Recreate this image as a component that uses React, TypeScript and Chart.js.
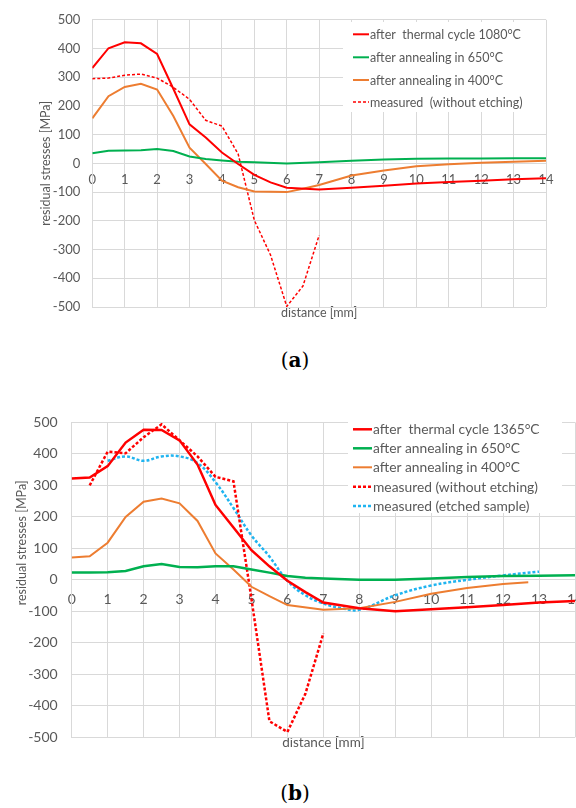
import React, { useEffect, useRef } from "react";
import { Chart, registerables } from "chart.js";

Chart.register(...registerables);

// ---------- Chart (a) data ----------
const aThermalX = [0, 0.5, 1, 1.5, 2, 2.5, 3, 3.5, 4, 4.5, 5, 5.5, 6, 7, 8, 9, 10, 11, 12, 13, 14];
const aThermalY = [332, 401, 422, 418, 381, 260, 136, 90, 38, -2, -40, -66, -85, -91, -85, -78, -70, -65, -60, -55, -52];

const a650X = [0, 0.5, 1, 1.5, 2, 2.5, 3, 3.5, 4, 4.5, 5, 6, 7, 8, 9, 10, 11, 12, 13, 14];
const a650Y = [35, 44, 45, 46, 50, 43, 24, 15, 10, 6, 4, 0, 4, 9, 14, 16, 17, 17, 18, 18];

const a400X = [0, 0.5, 1, 1.5, 2, 2.5, 3, 3.5, 4, 4.5, 5, 6, 6.5, 7, 8, 9, 10, 11, 12, 13, 14];
const a400Y = [157, 234, 266, 277, 257, 165, 55, -2, -60, -83, -98, -100, -88, -75, -42, -25, -10, -3, 2, 6, 9];

const aMeasuredX = [0, 0.5, 1, 1.5, 2, 2.5, 3, 3.5, 4, 4.5, 5, 5.5, 6, 6.5, 7];
const aMeasuredY = [295, 297, 307, 311, 297, 265, 223, 150, 130, 33, -198, -319, -498, -427, -250];

// ---------- Chart (b) data ----------
const bThermalX = [0, 0.5, 1, 1.5, 2, 2.5, 3, 3.5, 4, 4.5, 5, 5.5, 6, 6.5, 7, 8, 9, 10, 11, 12, 13, 14];
const bThermalY = [322, 325, 361, 436, 477, 476, 443, 366, 238, 166, 94, 43, -3, -39, -72, -90, -100, -93, -87, -80, -72, -67];

const b650X = [0, 0.5, 1, 1.5, 2, 2.5, 3, 3.5, 4, 4.5, 5, 5.5, 6, 6.5, 7, 8, 9, 10, 11, 12, 13, 14];
const b650Y = [23, 23, 24, 28, 43, 50, 41, 40, 43, 43, 33, 23, 12, 7, 4, 0, 0, 4, 9, 12, 13, 15];

const b400X = [0, 0.5, 1, 1.5, 2, 2.5, 3, 3.5, 4, 4.5, 5, 5.5, 6, 7, 8, 9, 10, 11, 12, 12.7];
const b400Y = [71, 75, 118, 200, 248, 258, 243, 187, 84, 33, -22, -52, -80, -95, -90, -70, -44, -26, -13, -8];

const bNoEtchX = [0.5, 1, 1.5, 2, 2.5, 3, 3.5, 4, 4.5, 5, 5.5, 6, 6.5, 7];
const bNoEtchY = [300, 407, 402, 453, 494, 443, 392, 327, 313, -60, -449, -483, -362, -170];

const bEtchedX = [1, 1.5, 2, 2.5, 3, 3.5, 4, 4.5, 5, 5.5, 6, 6.5, 7, 7.5, 8, 9, 10, 11, 12, 13];
const bEtchedY = [378, 392, 378, 392, 392, 371, 310, 228, 141, 74, -3, -49, -75, -90, -95, -49, -18, 0, 14, 26];

// ---------- labels ----------
const labelsA = [
  "after  thermal cycle 1080°C",
  "after annealing in 650°C",
  "after annealing in 400°C",
  "measured  (without etching)",
];
const labelsB = [
  "after  thermal cycle 1365°C",
  "after annealing in 650°C",
  "after annealing in 400°C",
  "measured (without etching)",
  "measured (etched sample)",
];
const xTitle = "distance [mm]";
const yTitle = "residual stresses [MPa]";
const xMin = 0;
const xMax = 14;
const yMin = -500;
const yMax = 500;

const TEXT = "#595959";
const GRID = "#d9d9d9";
const RED = "#ff0000";
const GREEN = "#00b050";
const ORANGE = "#ed7d31";
const BLUE = "#1fb4f0";

const pts = (xs: number[], ys: number[]) => xs.map((x, i) => ({ x, y: ys[i] }));

const boxLegend = {
  id: "boxLegend",
  afterDatasetsDraw(chart: any, _args: any, opts: any) {
    if (!opts || !opts.rows) return;
    const ctx = chart.ctx;
    ctx.save();
    ctx.fillStyle = "#ffffff";
    ctx.fillRect(opts.box.x, opts.box.y, opts.box.w, opts.box.h);
    ctx.font = `${opts.fontSize}px Lato`;
    ctx.textBaseline = "middle";
    ctx.textAlign = "left";
    chart.data.datasets.forEach((ds: any, i: number) => {
      const y = opts.rows[i];
      ctx.beginPath();
      ctx.setLineDash(ds.borderDash || []);
      ctx.strokeStyle = ds.borderColor;
      ctx.lineWidth = ds.borderWidth;
      ctx.moveTo(opts.lineX0, y);
      ctx.lineTo(opts.lineX1, y);
      ctx.stroke();
      ctx.setLineDash([]);
      ctx.fillStyle = TEXT;
      ctx.fillText(ds.label, opts.textX, y + 0.5);
    });
    ctx.restore();
  },
};

const sideTitle = {
  id: "sideTitle",
  afterDraw(chart: any, _args: any, opts: any) {
    if (!opts || !opts.text) return;
    const ctx = chart.ctx;
    const area = chart.chartArea;
    ctx.save();
    ctx.translate(opts.x, (area.top + area.bottom) / 2 + opts.dy);
    ctx.rotate(-Math.PI / 2);
    ctx.font = `${opts.fontSize}px Lato`;
    ctx.fillStyle = TEXT;
    ctx.textAlign = "center";
    ctx.textBaseline = "middle";
    ctx.fillText(opts.text, 0, 0);
    ctx.restore();
  },
};

function makeConfig(p: {
  datasets: any[];
  fontSize: number;
  titleSize: number;
  padding: any;
  yWidth: number;
  yTickPad: number;
  xTickPad: number;
  showYTitle: boolean;
  legend: any;
  side: any;
}) {
  const font = { family: "Lato", size: p.fontSize };
  const tfont = { family: "Lato", size: p.titleSize };
  return {
    type: "line",
    data: { datasets: p.datasets },
    options: {
      animation: false,
      responsive: false,
      devicePixelRatio: 1,
      layout: { padding: p.padding },
      elements: { point: { radius: 0, hoverRadius: 0 } },
      plugins: {
        legend: { display: false },
        tooltip: { enabled: false },
        boxLegend: p.legend,
        sideTitle: p.side,
      },
      scales: {
        x: {
          type: "linear",
          min: xMin,
          max: xMax,
          position: { y: 0 },
          ticks: { stepSize: 1, padding: p.xTickPad, color: TEXT, font, autoSkip: false, maxRotation: 0 },
          grid: { color: GRID, drawTicks: false },
          border: { color: GRID },
          afterFit(s: any) {
            s.paddingLeft = 0;
            s.paddingRight = 0;
          },
        },
        xt: {
          type: "linear",
          min: xMin,
          max: xMax,
          position: "bottom",
          grid: { display: false },
          border: { display: false },
          ticks: { display: false },
          title: { display: true, text: xTitle, color: TEXT, font: tfont, padding: 0 },
          afterFit(s: any) {
            s.height = 13;
            s.paddingLeft = 0;
            s.paddingRight = 0;
          },
        },
        y: {
          type: "linear",
          min: yMin,
          max: yMax,
          ticks: { stepSize: 100, padding: p.yTickPad, color: TEXT, font },
          grid: { color: GRID, drawTicks: false },
          border: { color: GRID },
          title: { display: p.showYTitle, text: yTitle, color: TEXT, font: tfont, padding: 0 },
          afterFit(s: any) {
            s.width = p.yWidth;
          },
        },
      },
    },
    plugins: [boxLegend, sideTitle],
  };
}

const line = (label: string, xs: number[], ys: number[], color: string, width: number, dash?: number[], tension = 0) => ({
  label,
  data: pts(xs, ys),
  borderColor: color,
  backgroundColor: color,
  borderWidth: width,
  borderDash: dash || [],
  fill: false,
  tension,
  pointRadius: 0,
  xAxisID: "x",
  yAxisID: "y",
});

function ChartCanvas({ config, top, height }: { config: any; top: number; height: number }) {
  const ref = useRef<HTMLCanvasElement>(null);
  useEffect(() => {
    const chart = new Chart(ref.current as HTMLCanvasElement, config);
    return () => chart.destroy();
  }, []);
  return (
    <canvas
      ref={ref}
      width={576}
      height={height}
      style={{ position: "absolute", left: 0, top, width: 576, height, display: "block" }}
    />
  );
}

const configA = makeConfig({
  datasets: [
    line(labelsA[0], aThermalX, aThermalY, RED, 2),
    line(labelsA[1], a650X, a650Y, GREEN, 2),
    line(labelsA[2], a400X, a400Y, ORANGE, 2),
    line(labelsA[3], aMeasuredX, aMeasuredY, RED, 1.5, [3, 2]),
  ],
  fontSize: 13,
  titleSize: 12.5,
  padding: { left: 38, top: 18, right: 30, bottom: 10 },
  yWidth: 54.3,
  yTickPad: 12,
  xTickPad: 9,
  showYTitle: true,
  legend: {
    box: { x: 343, y: 22, w: 203, h: 90 },
    rows: [34.3, 57.3, 80, 102],
    lineX0: 353,
    lineX1: 369,
    textX: 370,
    fontSize: 12.5,
  },
  side: {},
});

const configB = makeConfig({
  datasets: [
    line(labelsB[0], bThermalX, bThermalY, RED, 2.5),
    line(labelsB[1], b650X, b650Y, GREEN, 2.5),
    line(labelsB[2], b400X, b400Y, ORANGE, 2),
    line(labelsB[3], bNoEtchX, bNoEtchY, RED, 2.5, [3, 2]),
    line(labelsB[4], bEtchedX, bEtchedY, BLUE, 2.5, [3, 2], 0.4),
  ],
  fontSize: 14,
  titleSize: 13.5,
  padding: { left: 0, top: 13, right: 1, bottom: 9.7 },
  yWidth: 71.7,
  yTickPad: 14,
  xTickPad: 11,
  showYTitle: false,
  legend: {
    box: { x: 348, y: 17, w: 214, h: 96 },
    rows: [29.3, 48.3, 67.3, 86.7, 106],
    lineX0: 353,
    lineX1: 372,
    textX: 373,
    fontSize: 13.8,
  },
  side: { text: yTitle, x: 22, dy: -37, fontSize: 12.5 },
});

const captionStyle = (top: number): React.CSSProperties => ({
  position: "absolute",
  left: 0,
  top,
  width: 590,
  textAlign: "center",
  fontFamily: "'DejaVu Serif', serif",
  fontSize: 20,
  lineHeight: "24px",
  color: "#000",
});

export default function App() {
  return (
    <div style={{ position: "absolute", left: 0, top: 0, width: 576, height: 808, background: "#fff", overflow: "hidden" }}>
      <ChartCanvas config={configA} top={0} height={330} />
      <div style={captionStyle(348)}>
        (<b>a</b>)
      </div>
      <ChartCanvas config={configB} top={400} height={360} />
      <div style={captionStyle(781)}>
        (<b>b</b>)
      </div>
    </div>
  );
}
